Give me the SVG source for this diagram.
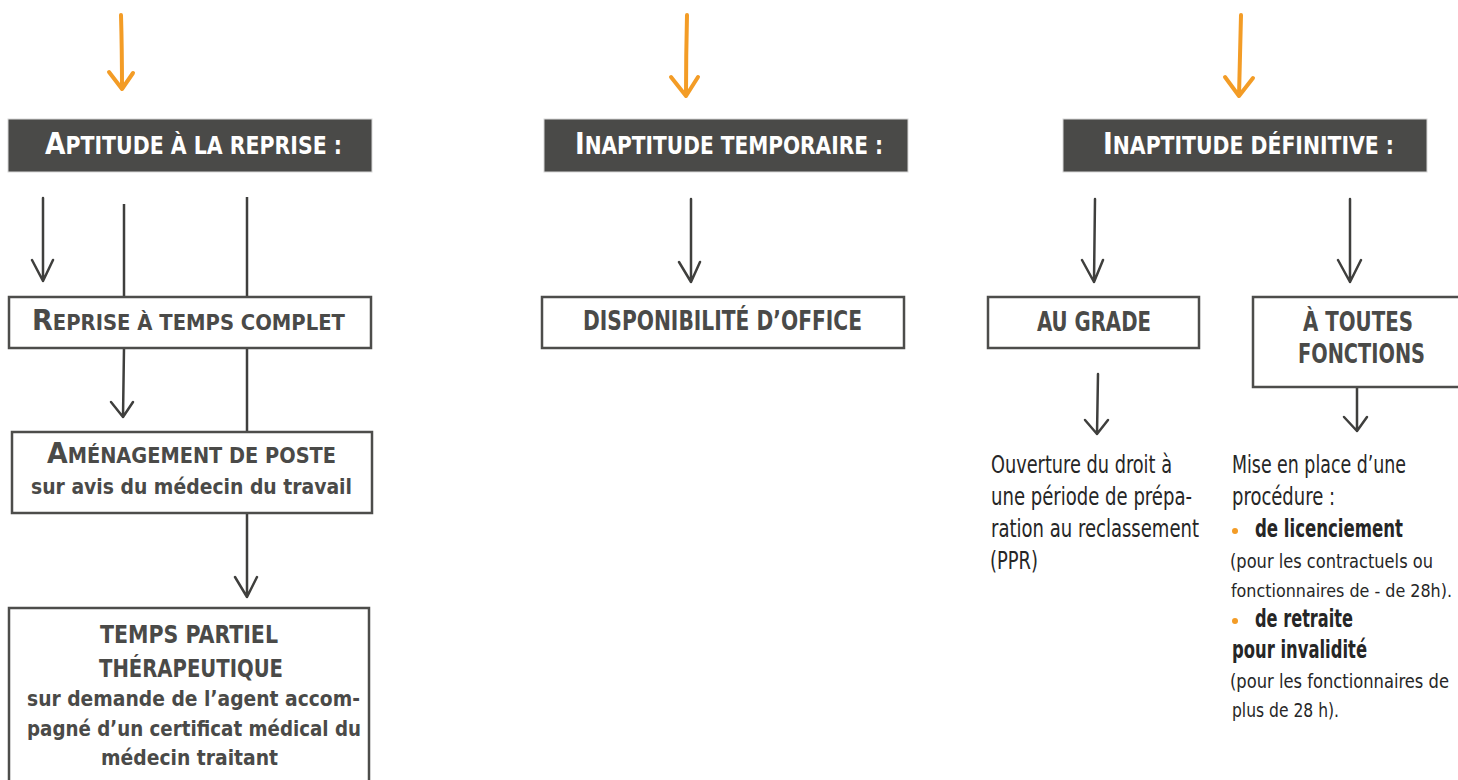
<svg xmlns="http://www.w3.org/2000/svg" width="1458" height="780" viewBox="0 0 1458 780">
<style>
.hdr{fill:#4a4a48;stroke:#d8d8d8;stroke-width:1}
.htxt{fill:#ffffff;font-family:"Liberation Sans Narrow","DejaVu Sans Condensed","Liberation Sans",sans-serif;font-weight:bold;font-size:24px}
.big{font-size:31px}
.box{fill:#ffffff;stroke:#4d4d4b;stroke-width:2.5}
.btxt{fill:#4a4a48;font-family:"Liberation Sans Narrow","DejaVu Sans Condensed","Liberation Sans",sans-serif;font-weight:bold}
.sc{font-size:21px}
.scb{font-size:29px}
.cap{font-size:26px}
.cap2{font-size:24px}
.sub{font-size:22px}
.body{fill:#262626;font-family:"Liberation Sans Narrow","DejaVu Sans Condensed","Liberation Sans",sans-serif;font-size:24px}
.small{font-size:19px}
.smaller{font-size:18px}
.bold{font-weight:bold}
.oar{fill:none;stroke:#f39c26;stroke-width:4;stroke-linecap:round;stroke-linejoin:round}
.gar{fill:none;stroke:#3f3f3d;stroke-width:2.5;stroke-linecap:round;stroke-linejoin:round}
.gln{fill:none;stroke:#3f3f3d;stroke-width:2.5}
.dot{fill:#f39c26}
</style>
<g id="connectors">
<path class="oar" d="M121 15 Q122 50 122 89 M109 72 L122 89 L133 73"/>
<path class="oar" d="M687 15 Q686 55 686 96 M671 77 L686 96 L698 77"/>
<path class="oar" d="M1241 15 Q1240 55 1239 96 M1225 77 L1239 96 L1253 78"/>
<path class="gar" d="M43 198 L43 281 M32 260 L43 281 L53 260"/>
<path class="gln" d="M124 204 L124 297"/>
<path class="gln" d="M247 197 L247 297"/>
<path class="gar" d="M124 348 L123 417 M111 402 L123 417 L133 402"/>
<path class="gln" d="M247 348 L247 432"/>
<path class="gar" d="M247 513 L247 597 M235 577 L247 597 L257 577"/>
<path class="gar" d="M691 199 L691 282 M679 262 L691 282 L700 262"/>
<path class="gar" d="M1095 199 L1094 282 M1082 260 L1094 282 L1103 260"/>
<path class="gar" d="M1350 199 L1350 282 M1338 260 L1350 282 L1361 260"/>
<path class="gar" d="M1098 374 L1097 434 M1085 420 L1097 434 L1108 420"/>
<path class="gar" d="M1357 387 L1357 431 M1344 417 L1357 431 L1367 417"/>
</g>
<g id="h-aptitude">
<rect class="hdr" x="8" y="119" width="364" height="53"/>
<text class="htxt" x="45" y="154" textLength="297" lengthAdjust="spacingAndGlyphs"><tspan class="big">A</tspan>PTITUDE À LA REPRISE :</text>
</g>
<g id="h-temporaire">
<rect class="hdr" x="544" y="119" width="364" height="53"/>
<text class="htxt" x="575" y="154" textLength="308" lengthAdjust="spacingAndGlyphs"><tspan class="big">I</tspan>NAPTITUDE TEMPORAIRE :</text>
</g>
<g id="h-definitive">
<rect class="hdr" x="1063" y="119" width="364" height="53"/>
<text class="htxt" x="1103" y="154" textLength="291" lengthAdjust="spacingAndGlyphs"><tspan class="big">I</tspan>NAPTITUDE DÉFINITIVE :</text>
</g>
<g id="n-reprise">
<rect class="box" x="9" y="297" width="362" height="51"/>
<text class="btxt sc" x="32" y="330" textLength="313" lengthAdjust="spacingAndGlyphs"><tspan class="scb">R</tspan>EPRISE À TEMPS COMPLET</text>
</g>
<g id="n-amenagement">
<rect class="box" x="12" y="432" width="360" height="81"/>
<text class="btxt sc" x="47" y="463" textLength="289" lengthAdjust="spacingAndGlyphs"><tspan class="scb">A</tspan>MÉNAGEMENT DE POSTE</text>
<text class="btxt sub" x="31" y="494" textLength="321" lengthAdjust="spacingAndGlyphs">sur avis du médecin du travail</text>
</g>
<g id="n-temps-partiel">
<rect class="box" x="9" y="608" width="360" height="190"/>
<text class="btxt cap2" x="100" y="643" textLength="178" lengthAdjust="spacingAndGlyphs">TEMPS PARTIEL</text>
<text class="btxt cap2" x="99" y="677" textLength="184" lengthAdjust="spacingAndGlyphs">THÉRAPEUTIQUE</text>
<text class="btxt sub" x="27" y="706" textLength="333" lengthAdjust="spacingAndGlyphs">sur demande de l’agent accom-</text>
<text class="btxt sub" x="27" y="736" textLength="334" lengthAdjust="spacingAndGlyphs">pagné d’un certificat médical du</text>
<text class="btxt sub" x="101" y="765" textLength="177" lengthAdjust="spacingAndGlyphs">médecin traitant</text>
</g>
<g id="n-disponibilite">
<rect class="box" x="542" y="297" width="362" height="51"/>
<text class="btxt cap" x="583" y="330" textLength="279" lengthAdjust="spacingAndGlyphs">DISPONIBILITÉ D’OFFICE</text>
</g>
<g id="n-grade">
<rect class="box" x="988" y="297" width="211" height="51"/>
<text class="btxt cap" x="1037" y="331" textLength="114" lengthAdjust="spacingAndGlyphs">AU GRADE</text>
</g>
<g id="n-toutes">
<rect class="box" x="1253" y="297" width="210" height="90"/>
<text class="btxt cap" x="1303" y="331" textLength="110" lengthAdjust="spacingAndGlyphs">À TOUTES</text>
<text class="btxt cap" x="1298" y="363" textLength="127" lengthAdjust="spacingAndGlyphs">FONCTIONS</text>
</g>
<g id="t-ppr">
<text class="body" x="991" y="473" textLength="181" lengthAdjust="spacingAndGlyphs">Ouverture du droit à</text>
<text class="body" x="991" y="505" textLength="201" lengthAdjust="spacingAndGlyphs">une période de prépa-</text>
<text class="body" x="991" y="537" textLength="208" lengthAdjust="spacingAndGlyphs">ration au reclassement</text>
<text class="body" x="990" y="569" textLength="48" lengthAdjust="spacingAndGlyphs">(PPR)</text>
</g>
<g id="t-procedure">
<text class="body" x="1232" y="473" textLength="174" lengthAdjust="spacingAndGlyphs">Mise en place d’une</text>
<text class="body" x="1232" y="505" textLength="103" lengthAdjust="spacingAndGlyphs">procédure :</text>
<circle class="dot" cx="1235" cy="531" r="3"/>
<text class="body bold" x="1255" y="537" textLength="148" lengthAdjust="spacingAndGlyphs">de licenciement</text>
<text class="body small" x="1230" y="568" textLength="203" lengthAdjust="spacingAndGlyphs">(pour les contractuels ou</text>
<text class="body smaller" x="1231" y="597" textLength="221" lengthAdjust="spacingAndGlyphs">fonctionnaires de - de 28h).</text>
<circle class="dot" cx="1235" cy="621" r="3"/>
<text class="body bold" x="1255" y="627" textLength="98" lengthAdjust="spacingAndGlyphs">de retraite</text>
<text class="body bold" x="1232" y="658" textLength="135" lengthAdjust="spacingAndGlyphs">pour invalidité</text>
<text class="body small" x="1230" y="688" textLength="219" lengthAdjust="spacingAndGlyphs">(pour les fonctionnaires de</text>
<text class="body small" x="1232" y="717" textLength="107" lengthAdjust="spacingAndGlyphs">plus de 28 h).</text>
</g>
</svg>
